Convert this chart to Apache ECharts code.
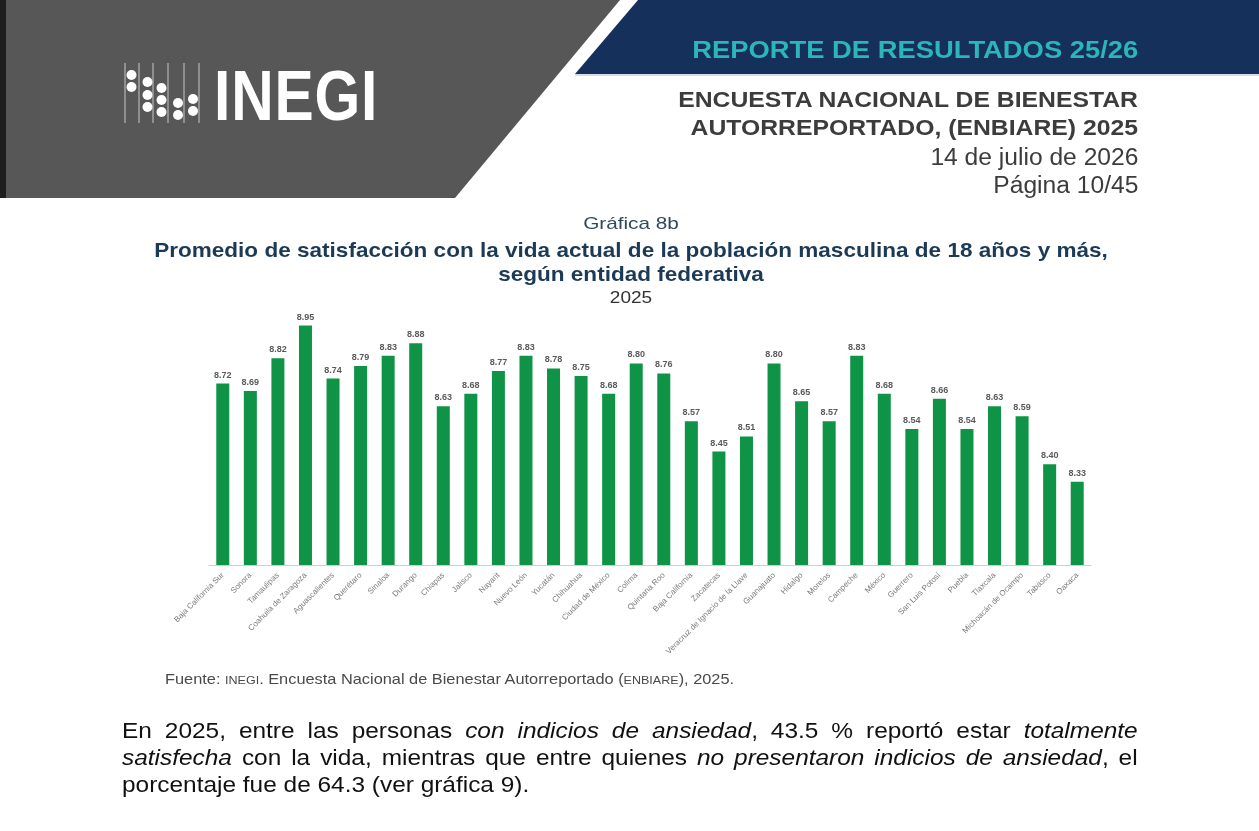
<!DOCTYPE html>
<html>
<head>
<meta charset="utf-8">
<script src="https://cdn.jsdelivr.net/npm/echarts@6/dist/echarts.min.js"></script>
<style>
  html, body { margin: 0; padding: 0; background: #fff; }
  body { width: 1259px; height: 831px; position: relative; overflow: hidden; font-family: "Liberation Sans", Arial, sans-serif; }
  #page { position: absolute; left: 0; top: 0; width: 1259px; height: 831px; }
  .t { position: absolute; white-space: nowrap; }
  .right { right: 121px; text-align: right; transform-origin: right top; }
  .center { left: 0; width: 1262px; text-align: center; transform-origin: 631px 0; }
  .just { text-align: justify; text-align-last: justify; }
</style>
</head>
<body>
<div id="page"></div>

<div class="t" style="left:214px; top:56px; font-size:70px; font-weight:bold; color:#fff; transform:scaleX(0.84); transform-origin:left top; letter-spacing:1px;">INEGI</div>

<div class="t right" style="top:36px; font-size:24px; font-weight:bold; color:#2cb6b8; transform:scaleX(1.14);">REPORTE DE RESULTADOS 25/26</div>
<div class="t right" style="top:86px; font-size:22.5px; font-weight:bold; color:#3c3c3c; line-height:28px; transform:scaleX(1.1);">ENCUESTA NACIONAL DE BIENESTAR<br>AUTORREPORTADO, (ENBIARE) 2025</div>
<div class="t right" style="top:143px; font-size:23px; color:#3c3c3c; line-height:28px; transform:scaleX(1.07);">14 de julio de 2026<br>Página 10/45</div>

<div class="t center" style="top:214px; font-size:17px; color:#2d4a5a; transform:scaleX(1.22);">Gráfica 8b</div>
<div class="t center" style="top:238px; font-size:20.5px; font-weight:bold; color:#1c3a55; line-height:24px; transform:scaleX(1.1);">Promedio de satisfacción con la vida actual de la población masculina de 18 años y más,<br>según entidad federativa</div>
<div class="t center" style="top:288px; font-size:17px; color:#333; transform:scaleX(1.12);">2025</div>

<div class="t" style="left:165px; top:670px; font-size:15px; color:#4a4a4a; transform:scaleX(1.09); transform-origin:left top;">Fuente: <span style="font-size:11.5px;">INEGI</span>. Encuesta Nacional de Bienestar Autorreportado (<span style="font-size:11.5px;">ENBIARE</span>), 2025.</div>

<div class="t" style="left:122px; top:717px; width:915px; font-size:22px; color:#111; line-height:27px; white-space:normal; transform:scaleX(1.11); transform-origin:left top;">
  <div class="just">En 2025, entre las personas <i>con indicios de ansiedad</i>, 43.5 % reportó estar <i>totalmente</i></div>
  <div class="just"><i>satisfecha</i> con la vida, mientras que entre quienes <i>no presentaron indicios de ansiedad</i>, el</div>
  <div>porcentaje fue de 64.3 (ver gráfica 9).</div>
</div>

<script>
  // datos de la gráfica 8b
  const estados = [
    'Baja California Sur', 'Sonora', 'Tamaulipas', 'Coahuila de Zaragoza', 'Aguascalientes',
    'Querétaro', 'Sinaloa', 'Durango', 'Chiapas', 'Jalisco', 'Nayarit', 'Nuevo León',
    'Yucatán', 'Chihuahua', 'Ciudad de México', 'Colima', 'Quintana Roo', 'Baja California',
    'Zacatecas', 'Veracruz de Ignacio de la Llave', 'Guanajuato', 'Hidalgo', 'Morelos',
    'Campeche', 'México', 'Guerrero', 'San Luis Potosí', 'Puebla', 'Tlaxcala',
    'Michoacán de Ocampo', 'Tabasco', 'Oaxaca'
  ];
  const promedio = [
    8.72, 8.69, 8.82, 8.95, 8.74,
    8.79, 8.83, 8.88, 8.63, 8.68, 8.77, 8.83,
    8.78, 8.75, 8.68, 8.80, 8.76, 8.57,
    8.45, 8.51, 8.80, 8.65, 8.57,
    8.83, 8.68, 8.54, 8.66, 8.54, 8.63,
    8.59, 8.40, 8.33
  ];

  // logo: columnas de puntos
  const logoLineas = [125, 139, 153, 168, 184, 199];
  const logoPuntos = [
    [131.5, 75], [131.5, 87],
    [147.5, 82], [147.5, 95], [147.5, 107],
    [161.5, 88], [161.5, 100], [161.5, 112],
    [178, 103], [178, 115],
    [193, 99], [193, 111]
  ];

  let graphics = [
    { type: 'polygon', z: -10, shape: { points: [[0, 0], [620, 0], [455, 198], [0, 198]] }, style: { fill: '#575757' } },
    { type: 'rect', z: -9, shape: { x: 0, y: 0, width: 6, height: 198 }, style: { fill: '#1e1e1e' } },
    { type: 'polygon', z: -10, shape: { points: [[638, 0], [1259, 0], [1259, 74], [575, 74]] }, style: { fill: '#15305a' } },
    { type: 'rect', z: -9, shape: { x: 575, y: 74, width: 684, height: 2 }, style: { fill: '#d5dde6' } }
  ];
  logoLineas.forEach(function (x) {
    graphics.push({ type: 'line', shape: { x1: x, y1: 63, x2: x, y2: 123 }, style: { stroke: '#c8c8c8', lineWidth: 1 } });
  });
  logoPuntos.forEach(function (p) {
    graphics.push({ type: 'circle', shape: { cx: p[0], cy: p[1], r: 5 }, style: { fill: '#ffffff' } });
  });

  let chart = echarts.init(document.getElementById('page'));
  chart.setOption({
    animation: false,
    graphic: graphics,
    grid: { left: 209, right: 168, top: 313, bottom: 266, containLabel: false },
    xAxis: {
      type: 'category',
      data: estados,
      axisLine: { lineStyle: { color: '#cfcfcf', width: 1 } },
      axisTick: { show: false },
      axisLabel: {
        interval: 0,
        rotate: 45,
        fontSize: 8,
        color: '#7a7a7a',
        margin: 9,
        fontFamily: 'Liberation Sans'
      }
    },
    yAxis: {
      type: 'value',
      min: 8,
      max: 9,
      show: false,
      splitLine: { show: false }
    },
    series: [{
      type: 'bar',
      data: promedio,
      barWidth: 13,
      clip: true,
      itemStyle: { color: '#0f9347' },
      label: {
        show: true,
        position: 'top',
        distance: 4,
        fontSize: 9,
        fontWeight: 'bold',
        color: '#5a5a5a',
        fontFamily: 'Liberation Sans',
        formatter: function (p) { return p.value.toFixed(2); }
      }
    }]
  });
</script>
</body>
</html>
